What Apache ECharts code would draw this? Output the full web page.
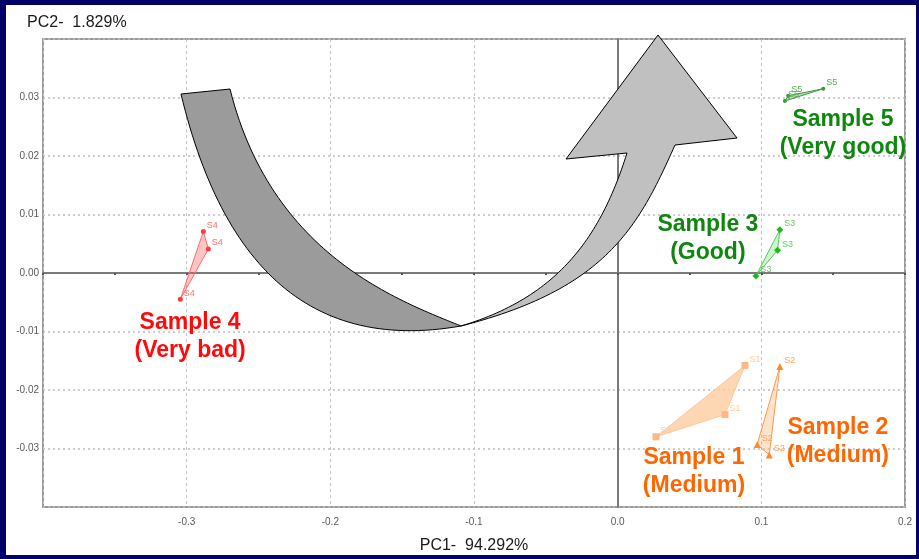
<!DOCTYPE html>
<html><head><meta charset="utf-8">
<script src="https://cdn.jsdelivr.net/npm/echarts@6/dist/echarts.min.js"></script>
<style>html,body{margin:0;padding:0;background:#000066;}#c{width:919px;height:559px;}</style>
</head><body><div id="c"></div>
<script>
// ---- data ----
const xTicks = [-0.4, -0.3, -0.2, -0.1, 0.0, 0.1, 0.2];
const yTicks = [-0.04, -0.03, -0.02, -0.01, 0.00, 0.01, 0.02, 0.03, 0.04];
const s4X = [-0.2884, -0.2849, -0.3044];
const s4Y = [0.0071, 0.0041, -0.0045];
const s3X = [0.1129, 0.1113, 0.0962];
const s3Y = [0.0074, 0.0039, -0.0005];
const s5X = [0.1431, 0.1187, 0.1164];
const s5Y = [0.0315, 0.0303, 0.0294];
const s1X = [0.0886, 0.0747, 0.0267];
const s1Y = [-0.0158, -0.0242, -0.0280];
const s2X = [0.1129, 0.0971, 0.1055];
const s2Y = [-0.0160, -0.0293, -0.0311];
const pointNames = ['S4', 'S3', 'S5', 'S1', 'S2'];
const groupTitles = ['Sample 4\n(Very bad)', 'Sample 3\n(Good)', 'Sample 5\n(Very good)', 'Sample 1\n(Medium)', 'Sample 2\n(Medium)'];
const titleX = [-0.2976, 0.0628, 0.1568, 0.0531, 0.1533];
const titleY = [-0.0109, 0.0059, 0.0239, -0.0340, -0.0288];

// ---- styles ----
const groups = [
  {xs: s4X, ys: s4Y, sym: 'circle', size: 5, mark: '#ff3b3b', lab: '#ff7070', fill: 'rgba(255,90,90,0.35)', edge: '#ff6a6a', title: '#ff0a0a'},
  {xs: s3X, ys: s3Y, sym: 'diamond', size: 7, mark: '#1fb81f', lab: '#66cc66', fill: 'rgba(120,220,120,0.35)', edge: '#55c855', title: '#0f870f'},
  {xs: s5X, ys: s5Y, sym: 'circle', size: 4, mark: '#3a9a3a', lab: '#5aaa5a', fill: 'rgba(80,160,80,0.4)', edge: '#3f9a3f', title: '#0f870f'},
  {xs: s1X, ys: s1Y, sym: 'rect', size: 7, mark: '#ffb784', lab: '#ffc9a0', fill: 'rgba(253,205,160,0.8)', edge: '#fdc89c', title: '#ff6600'},
  {xs: s2X, ys: s2Y, sym: 'triangle', size: 7, mark: '#ff8a2a', lab: '#ffa060', fill: 'rgba(255,175,110,0.35)', edge: '#ff9a4a', title: '#ff6600'}
];

const series = [];
groups.forEach((g, gi) => {
  const pts = g.xs.map((x, i) => [x, g.ys[i]]);
  series.push({
    type: 'custom', z: 3, silent: true,
    data: pts,
    renderItem: (params, api) => {
      if (params.dataIndex !== 0) return null;
      const px = pts.map(p => api.coord(p));
      return {type: 'polygon', shape: {points: px}, style: {fill: g.fill, stroke: g.edge, lineWidth: 1}};
    }
  });
  series.push({
    type: 'scatter', z: 4, silent: true,
    symbol: g.sym, symbolSize: g.size,
    itemStyle: {color: g.mark, opacity: 1},
    label: {show: true, formatter: pointNames[gi], position: 'right', distance: 1, offset: [0, -6],
            color: g.lab, fontSize: 9, fontFamily: 'Liberation Sans, Arial, sans-serif'},
    data: pts
  });
  series.push({
    type: 'scatter', z: 6, silent: true, symbolSize: 0,
    itemStyle: {opacity: 1},
    label: {show: true, position: 'inside', formatter: groupTitles[gi], color: g.title,
            fontSize: 23, fontWeight: 'bold', lineHeight: 28, align: 'center',
            fontFamily: 'Liberation Sans, Arial, sans-serif'},
    data: [[titleX[gi], titleY[gi]]]
  });
});

// ---- decorative curved arrow (pixel geometry, cubic Bezier outlines) ----
function bez(p0, c1, c2, p3, n) {
  const out = [];
  for (let k = 0; k <= n; k++) {
    const t = k / n, u = 1 - t;
    const a = u * u * u, b = 3 * u * u * t, c = 3 * u * t * t, d = t * t * t;
    out.push([a * p0[0] + b * c1[0] + c * c2[0] + d * p3[0], a * p0[1] + b * c1[1] + c * c2[1] + d * p3[1]]);
  }
  return out;
}
const darkInner = bez([230, 89], [271.3, 253.9], [396.2, 299.7], [461, 326], 60);
const darkOuter = bez([461, 326], [313, 352], [223, 269], [181, 94], 60);
const lightUpper = bez([461, 326], [556.8, 297.3], [600, 238.9], [627, 153], 60);
const lightLower = bez([675, 145], [638.3, 227.2], [606.4, 288.8], [461, 326], 60);
const darkPoly = [[181, 94]].concat(darkInner, darkOuter);
const lightPoly = lightUpper.concat([[566, 159], [658, 35], [737, 138]], lightLower);

const chart = echarts.init(document.getElementById('c'), null, {renderer: 'canvas'});
chart.setOption({
  animation: false,
  backgroundColor: '#000066',
  title: {text: 'PC2-  1.829%', left: 22, top: 10,
          textStyle: {fontSize: 16, fontWeight: 'normal', color: '#1a1a1a', fontFamily: 'Liberation Sans, Arial, sans-serif'}},
  grid: {left: 43, right: 14, top: 39, bottom: 48, show: true, borderColor: '#9a9a9a', borderWidth: 2, backgroundColor: '#fff'},
  graphic: [
    {type: 'rect', z: -100, shape: {x: 6, y: 5, width: 910, height: 550}, style: {fill: '#ffffff'}},
    {type: 'polygon', z: 100, shape: {points: darkPoly}, style: {fill: '#9b9b9b', stroke: '#000', lineWidth: 1}},
    {type: 'polygon', z: 100, shape: {points: lightPoly}, style: {fill: '#c0c0c0', stroke: '#000', lineWidth: 1}}
  ],
  xAxis: [{
    type: 'value', min: xTicks[0], max: xTicks[xTicks.length - 1], interval: 0.1,
    name: 'PC1-  94.292%', nameLocation: 'middle', nameGap: 31,
    nameTextStyle: {fontSize: 16, color: '#1a1a1a', fontFamily: 'Liberation Sans, Arial, sans-serif'},
    axisLine: {show: false, onZero: false}, axisTick: {show: false},
    axisLabel: {margin: 10, fontSize: 10, color: '#5a5a5a', fontFamily: 'Liberation Sans Narrow, Liberation Sans, Arial',
      formatter: v => (v < -0.35 ? '' : (Math.abs(v) < 1e-9 ? '0.0' : v.toFixed(1)))},
    splitLine: {show: true, lineStyle: {color: '#c4c4c4', type: [3, 3], width: 1}}
  }, {
    type: 'value', min: xTicks[0], max: xTicks[xTicks.length - 1], interval: 0.05, position: 'top',
    axisLine: {show: true, onZero: true, lineStyle: {color: '#7a7a7a', width: 2}},
    axisTick: {show: true, inside: true, length: 2, lineStyle: {color: '#555', width: 2}},
    axisLabel: {show: false}, splitLine: {show: false}
  }],
  yAxis: [{
    type: 'value', min: yTicks[0], max: yTicks[yTicks.length - 1], interval: 0.01,
    axisLine: {show: false, onZero: false}, axisTick: {show: false},
    axisLabel: {margin: 4, fontSize: 10, color: '#5a5a5a', fontFamily: 'Liberation Sans Narrow, Liberation Sans, Arial',
      formatter: v => (Math.abs(v) > 0.035 ? '' : (Math.abs(v) < 1e-9 ? '0.00' : v.toFixed(2)))},
    splitLine: {show: true, lineStyle: {color: '#bdbdbd', type: [2, 3], width: 1.5}}
  }, {
    type: 'value', min: yTicks[0], max: yTicks[yTicks.length - 1], interval: 0.005, position: 'right',
    axisLine: {show: true, onZero: true, lineStyle: {color: '#7a7a7a', width: 2}},
    axisTick: {show: false},
    axisLabel: {show: false}, splitLine: {show: false}
  }],
  series: series
});
</script></body></html>
